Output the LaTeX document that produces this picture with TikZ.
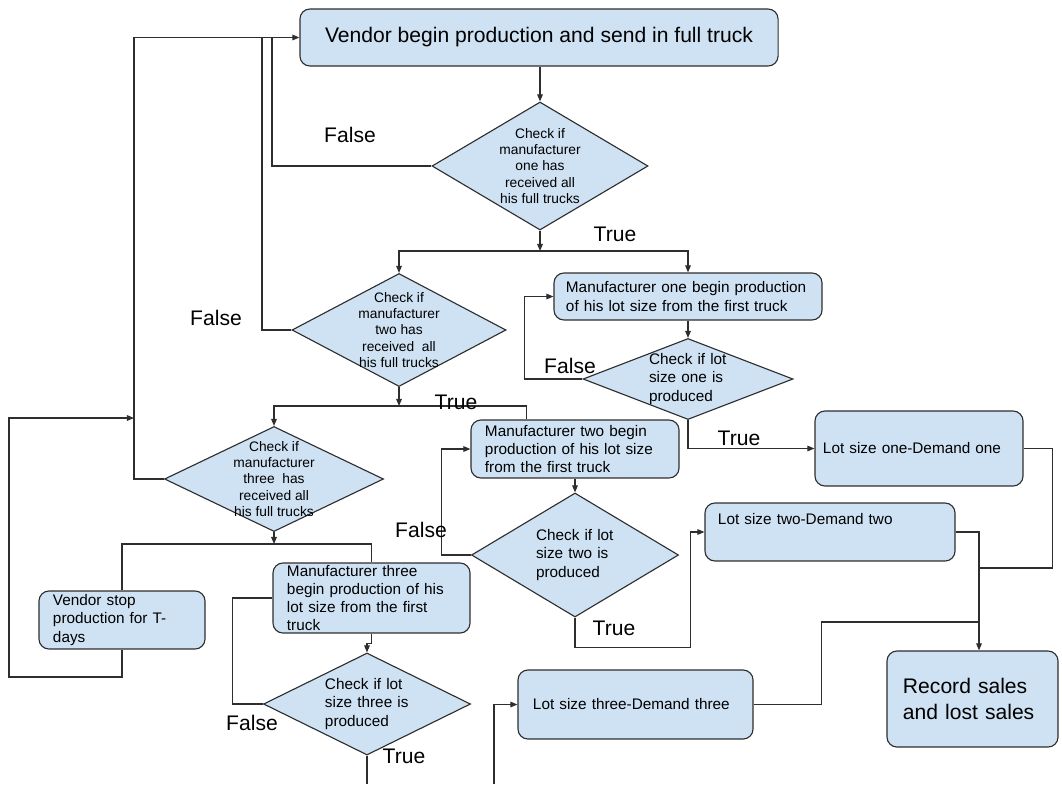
\documentclass[tikz,border=0pt]{standalone}
\usepackage{fontspec}
\setmainfont{Liberation Sans}
\usepackage{tikz}
\usetikzlibrary{arrows.meta, shapes.geometric, calc}

\definecolor{boxblue}{HTML}{CFE2F3}
\definecolor{linegray}{HTML}{2E2E2E}

\begin{document}
\begin{tikzpicture}[x=0.025cm, y=-0.025cm, >={Triangle[length=5pt,width=4pt]},
    proc/.style={draw=linegray, fill=boxblue, line width=0.8pt, rounded corners=0.25cm, inner sep=0pt, align=left},
    decide/.style={diamond, draw=linegray, fill=boxblue, line width=0.8pt, inner sep=-15pt},
    flow/.style={draw=linegray, line width=0.8pt},
    bigfont/.style={font=\fontsize{15}{18.5}\selectfont},
    midfont/.style={font=\fontsize{10.9}{13}\selectfont},
    smallfont/.style={font=\fontsize{9.8}{11.6}\selectfont}]
    \useasboundingbox (0,0) rectangle (1062,784);

    % boxes
    \node[proc, bigfont, align=center, minimum width=11.95cm, minimum height=1.425cm] (top) at (539,37.5)
        {Vendor begin production and send in full truck};
    \node[proc, midfont, text width=6.1cm, minimum width=6.7cm, minimum height=1.175cm] (m1) at (688,296.5)
        {Manufacturer one begin production\\of his lot size from the first truck};
    \node[proc, midfont, text width=4.5cm, minimum width=5.2cm, minimum height=1.45cm] (m2) at (575,449)
        {Manufacturer two begin\\production of his lot size\\from the first truck};
    \node[proc, midfont, text width=4.225cm, minimum width=4.925cm, minimum height=1.75cm] (m3) at (371.5,598)
        {Manufacturer three\\begin production of his\\lot size from the first\\truck};
    \node[proc, midfont, text width=3.45cm, minimum width=4.15cm, minimum height=1.45cm] (vs) at (122,620)
        {Vendor stop\\production for T-\\days};
    \node[proc, midfont, text width=4.8cm, minimum width=5.2cm, minimum height=1.875cm] (l1) at (919,448.5)
        {Lot size one-Demand one};
    \node[proc, midfont, text width=5.6cm, minimum width=6.25cm, minimum height=1.45cm] (l2) at (830,532)
        {Lot size two-Demand two\\[6pt]~};
    \node[proc, midfont, text width=5.125cm, minimum width=5.875cm, minimum height=1.725cm] (l3) at (635.5,704.5)
        {Lot size three-Demand three};
    \node[proc, bigfont, text width=3.475cm, minimum width=4.275cm, minimum height=2.4cm] (rec) at (972.5,699)
        {Record sales\\and lost sales};

    % decisions
    \node[decide, smallfont, align=center, minimum width=5.4cm, minimum height=3.2cm] (d1) at (540,166)
        {Check if\\manufacturer\\one has\\received all\\his full trucks};
    \node[decide, smallfont, align=center, minimum width=5.35cm, minimum height=2.825cm] (d2) at (399,330)
        {Check if\\manufacturer\\two has\\received\ \ all\\his full trucks};
    \node[decide, smallfont, align=center, minimum width=5.475cm, minimum height=2.625cm] (d4) at (274,479)
        {Check if\\manufacturer\\three\ \ has\\received all\\his full trucks};
    \node[decide, midfont, align=left, text width=1.95cm, minimum width=5.25cm, minimum height=2.025cm] (d3) at (688,379)
        {Check if lot\\size one is\\produced};
    \node[decide, midfont, align=left, text width=1.95cm, minimum width=5.175cm, minimum height=3.1cm] (d6) at (575,555)
        {Check if lot\\size two is\\produced};
    \node[decide, midfont, align=left, text width=2.1cm, minimum width=5.175cm, minimum height=2.55cm] (d5) at (367,704)
        {Check if lot\\size three is\\produced};

    % junctions
    \coordinate (fbA) at (134,37.5);
    \coordinate (fb1) at (272,37.5);
    \coordinate (fb2) at (262,37.5);
    \coordinate (fbC) at (134,418);
    \coordinate (sp1) at (540,251);
    \coordinate (sp2) at (399,406);
    \coordinate (sp3) at (274,544);
    \coordinate (bus1) at (979,568);
    \coordinate (bus3) at (979,622);
    \coordinate (cut5) at (367,784);
    \coordinate (cut3) at (494,784);

    % vendor loop
    \draw[flow, ->] (top.south -| d1) -- (d1.north);
    \draw[flow, ->] (d4.west) -| (fbA) -- (top.west);
    \draw[flow] (d1.west) -| (fb1);
    \draw[flow] (d2.west) -| (fb2);
    \draw[flow, ->] (vs.south) |- (9,677) |- (fbC);

    % manufacturer one
    \draw[flow, ->] (d1.south) -- (sp1);
    \draw[flow, ->] (sp1) -| (d2.north);
    \draw[flow, ->] (sp1) -| (m1.north);
    \draw[flow, ->] (m1.south) -- (d3.north);
    \draw[flow, ->] (d3.west) -- ++(-58,0) |- (m1.west);
    \draw[flow, ->] (d3.south) |- (l1.west);

    % manufacturer two
    \draw[flow, ->] (d2.south) -- (sp2);
    \draw[flow, ->] (sp2) -| (d4.north);
    \draw[flow] (sp2) -| ($(m2.north west)+(56,0)$);
    \draw[flow, ->] (m2.south) -- (d6.north);
    \draw[flow, ->] (d6.west) -- ++(-29,0) |- (m2.west);
    \draw[flow, ->] (d6.south) -- ++(0,30) -| ($(l2.west)+(-14,0)$) -- (l2.west);

    % manufacturer three
    \draw[flow, ->] (d4.south) -- (sp3);
    \draw[flow] (sp3) -| (vs.north);
    \draw[flow] (sp3) -| (m3.north);
    \draw[flow, ->] (m3.south) -- ++(0,10) -| (d5.north);
    \draw[flow] (d5.west) -- ++(-30,0) |- (m3.west);
    \draw[flow] (d5.south) -- (cut5);
    \draw[flow, ->] (cut3) |- (l3.west);

    % sales
    \draw[flow, ->] (l2.east) -| ($(rec.north)+(6.5,0)$);
    \draw[flow] (l1.east) -- ++(29,0) |- (bus1);
    \draw[flow] (l3.east) -- ++(68,0) |- (bus3);

    % labels
    \node[bigfont] (f1) at (350,135) {False};
    \node[bigfont] (t1) at (615,234) {True};
    \node[bigfont] (f2) at (216,318) {False};
    \node[bigfont] (t2) at (456,402) {True};
    \node[bigfont] (f3) at (570,366) {False};
    \node[bigfont] (t3) at (739,438) {True};
    \node[bigfont] (f6) at (421,530) {False};
    \node[bigfont] (t6) at (614,628) {True};
    \node[bigfont] (f5) at (252,723) {False};
    \node[bigfont] (t5) at (404,756) {True};
\end{tikzpicture}
\end{document}
